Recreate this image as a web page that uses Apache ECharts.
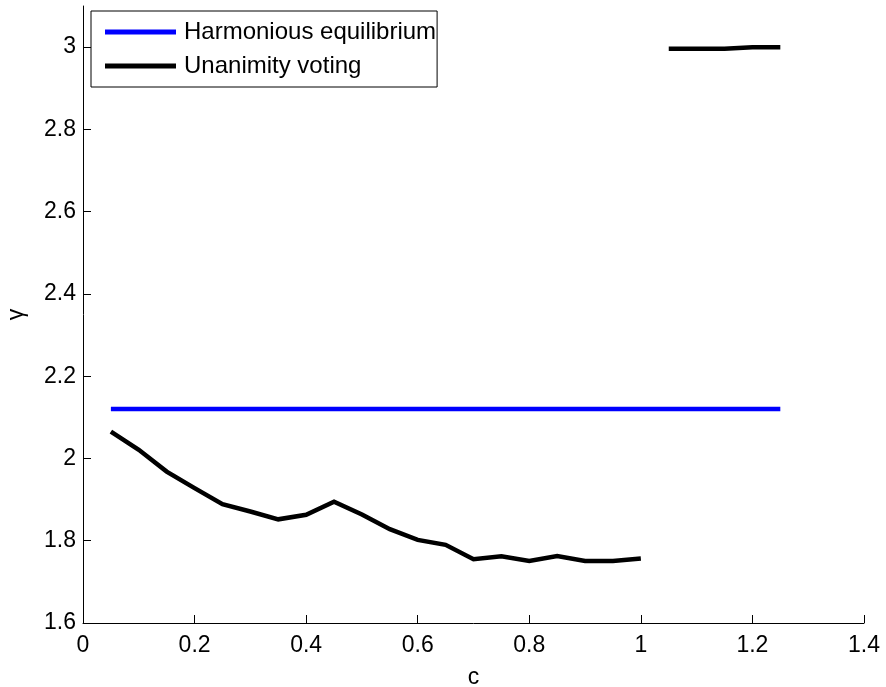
<!DOCTYPE html>
<html>
<head>
<meta charset="utf-8">
<style>
  html, body { margin: 0; padding: 0; background: #fff; }
  #chart { width: 886px; height: 687px; }
</style>
<script src="https://cdn.jsdelivr.net/npm/echarts@6/dist/echarts.min.js"></script>
</head>
<body>
<div id="chart"></div>
<script>
// Harmonious equilibrium: constant gamma over the c range
const harmonicC = [0.05, 1.25];
const harmonicGamma = [2.12, 2.12];

// Unanimity voting: low branch (c <= 1) and high branch (c >= 1.05)
const unanimityLowC = [0.05, 0.10, 0.15, 0.20, 0.25, 0.30, 0.35, 0.40, 0.45, 0.50,
                       0.55, 0.60, 0.65, 0.70, 0.75, 0.80, 0.85, 0.90, 0.95, 1.00];
const unanimityLowGamma = [2.065, 2.021, 1.968, 1.928, 1.889, 1.871, 1.852, 1.863, 1.895, 1.864,
                           1.828, 1.802, 1.790, 1.755, 1.762, 1.751, 1.763, 1.751, 1.751, 1.757];
const unanimityHighC = [1.05, 1.10, 1.15, 1.20, 1.25];
const unanimityHighGamma = [2.996, 2.996, 2.996, 3.0, 3.0];

// Tick values
const xTicks = [0, 0.2, 0.4, 0.6, 0.8, 1.0, 1.2, 1.4];
const yTicks = [1.6, 1.8, 2.0, 2.2, 2.4, 2.6, 2.8, 3.0];

const zip = (xs, ys) => xs.map((x, i) => [x, ys[i]]);

const FONT = 'Liberation Sans, Arial, Helvetica, sans-serif';
const LINE_W = 4.5;
const chart = echarts.init(document.getElementById('chart'), null, { renderer: 'canvas' });

const axisCommon = {
  axisLine: { show: true, onZero: false, lineStyle: { color: '#000', width: 1 } },
  axisTick: { show: true, inside: true, length: 8, lineStyle: { color: '#000', width: 1 } },
  splitLine: { show: false },
  nameTextStyle: { fontFamily: FONT, fontSize: 23, color: '#000' }
};

chart.setOption({
  animation: false,
  backgroundColor: '#fff',
  grid: { left: 83, right: 22, top: 6, bottom: 64, containLabel: false, outerBoundsMode: 'none' },
  legend: {
    orient: 'vertical',
    left: 91,
    top: 11,
    padding: [9, 1, 9, 14],
    itemGap: 10,
    itemWidth: 71,
    itemHeight: 5,
    icon: 'rect',
    borderColor: '#000',
    borderWidth: 1,
    backgroundColor: '#fff',
    textStyle: { fontFamily: FONT, fontSize: 24, color: '#000', padding: [0, 0, 0, 3] },
    data: ['Harmonious equilibrium', 'Unanimity voting']
  },
  xAxis: Object.assign({}, axisCommon, {
    type: 'value',
    min: 0,
    max: 1.4,
    interval: 0.2,
    name: 'c',
    nameLocation: 'middle',
    nameGap: 43,
    axisTick: Object.assign({}, axisCommon.axisTick, { customValues: xTicks }),
    axisLabel: { customValues: xTicks, margin: 11, fontFamily: FONT, fontSize: 23, color: '#000',
                 formatter: v => String(+v.toFixed(1)) }
  }),
  yAxis: Object.assign({}, axisCommon, {
    type: 'value',
    min: 1.6,
    max: 3.1,
    interval: 0.2,
    name: 'γ',
    nameLocation: 'middle',
    nameGap: 55,
    axisTick: Object.assign({}, axisCommon.axisTick, { customValues: yTicks }),
    axisLabel: { customValues: yTicks, margin: 7, fontFamily: FONT, fontSize: 23, color: '#000',
                 formatter: v => String(+v.toFixed(1)) }
  }),
  series: [
    {
      name: 'Harmonious equilibrium',
      type: 'line',
      data: zip(harmonicC, harmonicGamma),
      symbol: 'none',
      lineStyle: { color: '#0000ff', width: LINE_W },
      itemStyle: { color: '#0000ff' }
    },
    {
      name: 'Unanimity voting',
      type: 'line',
      data: zip(unanimityLowC, unanimityLowGamma),
      symbol: 'none',
      lineStyle: { color: '#000', width: LINE_W, join: 'miter' },
      itemStyle: { color: '#000' }
    },
    {
      name: 'Unanimity voting',
      type: 'line',
      data: zip(unanimityHighC, unanimityHighGamma),
      symbol: 'none',
      lineStyle: { color: '#000', width: LINE_W },
      itemStyle: { color: '#000' }
    }
  ]
});
</script>
</body>
</html>
